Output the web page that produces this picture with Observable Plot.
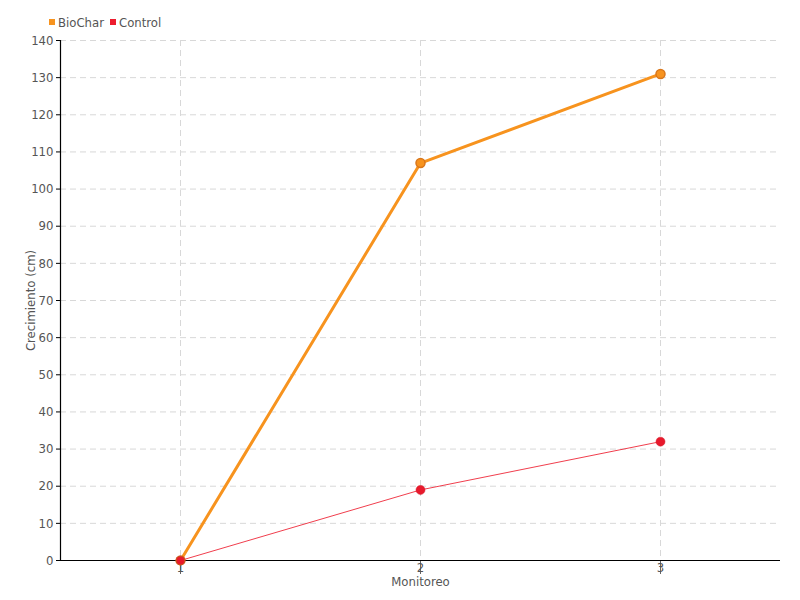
<!DOCTYPE html>
<html>
<head>
<meta charset="utf-8">
<script src="https://cdn.jsdelivr.net/npm/d3@7"></script>
<script src="https://cdn.jsdelivr.net/npm/@observablehq/plot@0.6"></script>
<style>
  html, body { margin: 0; padding: 0; background: #fff; }
  body { width: 800px; height: 600px; overflow: hidden; position: relative; font-family: "DejaVu Sans Condensed", "DejaVu Sans", sans-serif; font-stretch: condensed; }
  #legend { position: absolute; left: 49px; top: 13px; height: 18px; display: flex; align-items: center; font-size: 13px; color: #555; gap: 6px; z-index: 2; }
  #legend span.item { display: inline-flex; align-items: center; }
  #legend span.sw { width: 6px; height: 6px; display: inline-block; margin-right: 3px; }
  svg text { font-stretch: condensed; }
</style>
</head>
<body>
<div id="legend"></div>
<div id="chart"></div>
<script>
const monitoreo = [1, 2, 3];
const biochar = [0, 107, 131];
const control = [0, 19, 32];
const seriesNames = ["BioChar", "Control"];
const seriesColors = ["#f7931e", "#ed1c2e"];
const yTicks = [0, 10, 20, 30, 40, 50, 60, 70, 80, 90, 100, 110, 120, 130, 140];

const rows = [];
monitoreo.forEach((m, i) => {
  rows.push({serie: "BioChar", x: m, y: biochar[i]});
  rows.push({serie: "Control", x: m, y: control[i]});
});
const bio = rows.filter(d => d.serie === "BioChar");
const ctl = rows.filter(d => d.serie === "Control");

const legend = document.getElementById("legend");
seriesNames.forEach((n, i) => {
  const s = document.createElement("span");
  s.className = "item";
  s.innerHTML = `<span class="sw" style="background:${seriesColors[i]}"></span>${n}`;
  legend.appendChild(s);
});

const font = '"DejaVu Sans Condensed", "DejaVu Sans", sans-serif';
const chart = Plot.plot({
  width: 800,
  height: 600,
  marginTop: 40,
  marginBottom: 40,
  marginLeft: 60,
  marginRight: 20,
  style: {fontFamily: font, fontSize: "13px", color: "#555", background: "#fff"},
  x: {domain: [0.5, 3.5]},
  y: {domain: [0, 140]},
  marks: [
    Plot.gridY(yTicks, {stroke: "#d8d8d8", strokeOpacity: 1, strokeDasharray: "6,4"}),
    Plot.gridX(monitoreo, {stroke: "#d8d8d8", strokeOpacity: 1, strokeDasharray: "6,4"}),
    Plot.axisY(yTicks, {tickSize: 4, tickPadding: 3, stroke: "#000", fill: "#555", label: null, tickFormat: d => String(d)}),
    Plot.axisX(monitoreo, {tickSize: 14, tickPadding: -12, stroke: "#666", fill: "#555", label: null, tickFormat: d => String(d)}),
    Plot.ruleX([0.5], {stroke: "#000", strokeWidth: 1.2}),
    Plot.ruleY([0], {stroke: "#000", strokeWidth: 1.2}),
    Plot.text(["Crecimiento (cm)"], {frameAnchor: "left", dx: -30, rotate: -90, textAnchor: "middle", fill: "#555", fontSize: 13}),
    Plot.text(["Monitoreo"], {frameAnchor: "bottom", dy: 25, fill: "#555", fontSize: 13}),
    Plot.line(ctl, {x: "x", y: "y", stroke: seriesColors[1], strokeWidth: 1, strokeOpacity: 0.85}),
    Plot.line(bio, {x: "x", y: "y", stroke: seriesColors[0], strokeWidth: 3}),
    Plot.dot(ctl, {x: "x", y: "y", r: 4.5, fill: "#e8192c", stroke: "#d01525", strokeWidth: 0.5}),
    Plot.dot(bio, {x: "x", y: "y", r: 4.5, fill: "#f7931e", stroke: "#d9761a", strokeWidth: 1.5, filter: d => d.y > 0}),
    Plot.dot(ctl.filter(d => d.x === 1), {x: "x", y: "y", r: 4.5, fill: "#e8192c", stroke: "#c8601a", strokeWidth: 1.2})
  ]
});
document.getElementById("chart").appendChild(chart);
</script>
</body>
</html>
